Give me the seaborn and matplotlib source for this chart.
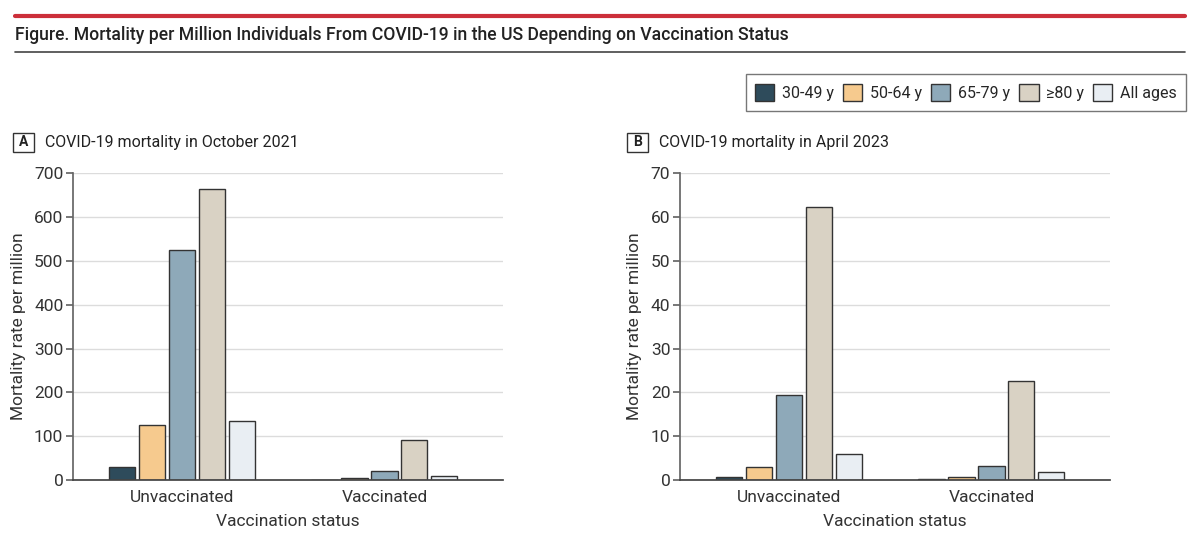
import pandas as pd
import numpy as np
import seaborn as sns
import matplotlib.pyplot as plt
from matplotlib.patches import Rectangle
from matplotlib.lines import Line2D

# data
status = ['Unvaccinated', 'Vaccinated']
ages = ['30-49 y', '50-64 y', '65-79 y', '≥80 y', 'All ages']
oct2021_unvax = [29, 126, 525, 665, 134]
oct2021_vax = [1, 5, 20, 91, 8]
apr2023_unvax = [0.7, 3.0, 19.4, 62.4, 6.0]
apr2023_vax = [0.2, 0.75, 3.1, 22.7, 1.8]

colors = ['#2e4b5b', '#f6ca8e', '#8ea9b9', '#d9d2c4', '#e9eef3']

sns.set_theme(style='white')
plt.rcParams['font.family'] = ['Roboto', 'DejaVu Sans']

def make_df(unvax, vax):
    rows = []
    for s, vals in zip(status, [unvax, vax]):
        for a, v in zip(ages, vals):
            rows.append({'status': s, 'age': a, 'rate': v})
    return pd.DataFrame(rows)

fig = plt.figure(figsize=(12, 5.43), dpi=100)

# header lines and title
fig.add_artist(Line2D([15 / 1200, 1185 / 1200], [1 - 16 / 543] * 2, color='#cc2f3a', lw=3))
fig.add_artist(Line2D([15 / 1200, 1185 / 1200], [1 - 52 / 543] * 2, color='#444444', lw=1.2))
fig.text(15 / 1200, 1 - 35 / 543, 'Figure. Mortality per Million Individuals From COVID-19 in the US Depending on Vaccination Status',
         fontsize=12.7, weight='medium', color='#222222', va='center', ha='left')

panels = [
    ('A', 'COVID-19 mortality in October 2021', oct2021_unvax, oct2021_vax, 700, 100, 73, 13),
    ('B', 'COVID-19 mortality in April 2023', apr2023_unvax, apr2023_vax, 70, 10, 680, 627),
]

for letter, title, unvax, vax, ymax, step, left_px, box_px in panels:
    ax = fig.add_axes([left_px / 1200, 1 - 480 / 543, 430 / 1200, (480 - 173.3) / 543])
    df = make_df(unvax, vax)
    sns.barplot(data=df, x='status', y='rate', hue='age', hue_order=ages, order=status,
                palette=colors, saturation=1, width=0.74, gap=0.13, edgecolor='#333333',
                linewidth=1, legend=False, ax=ax)
    ax.set_xlim(-0.537, 1.585)
    ax.set_ylim(0, ymax)
    ax.set_yticks(np.arange(0, ymax + step, step))
    ax.yaxis.grid(True, color='#dcdcdc', lw=1)
    ax.set_axisbelow(True)
    for sp in ['top', 'right']:
        ax.spines[sp].set_visible(False)
    ax.spines['left'].set_color('#666666')
    ax.spines['bottom'].set_color('#444444')
    ax.tick_params(axis='y', left=True, length=5, color='#666666', labelsize=12.5, labelcolor='#333333', pad=2)
    ax.tick_params(axis='x', bottom=False, labelsize=12.5, labelcolor='#333333', pad=1)
    ax.set_xlabel('Vaccination status', fontsize=12.5, color='#333333', labelpad=7)
    ax.set_ylabel('Mortality rate per million', fontsize=12.5, color='#333333', labelpad=6)

    # panel label box
    fig.add_artist(Rectangle((box_px / 1200, 1 - 152 / 543), 21 / 1200, 19 / 543,
                             transform=fig.transFigure, fill=False, edgecolor='#333333', lw=1))
    fig.text((box_px + 10.5) / 1200, 1 - 142.5 / 543, letter, fontsize=10, weight='bold',
             ha='center', va='center', color='#222222')
    fig.text((box_px + 32) / 1200, 1 - 142 / 543, title, fontsize=11.5, ha='left', va='center', color='#222222')

# legend
handles = [Rectangle((0, 0), 1, 1, facecolor=c, edgecolor='#333333', lw=1) for c in colors]
fig.legend(handles, ages, loc='upper right', bbox_to_anchor=(1186 / 1200, 1 - 74 / 543), ncol=5,
           frameon=True, fancybox=False, edgecolor='#555555', fontsize=11.5, handlelength=1.2,
           handleheight=1.3, columnspacing=0.6, handletextpad=0.45, borderpad=0.6, borderaxespad=0)

fig.savefig('out.png', dpi=100, facecolor='white')
